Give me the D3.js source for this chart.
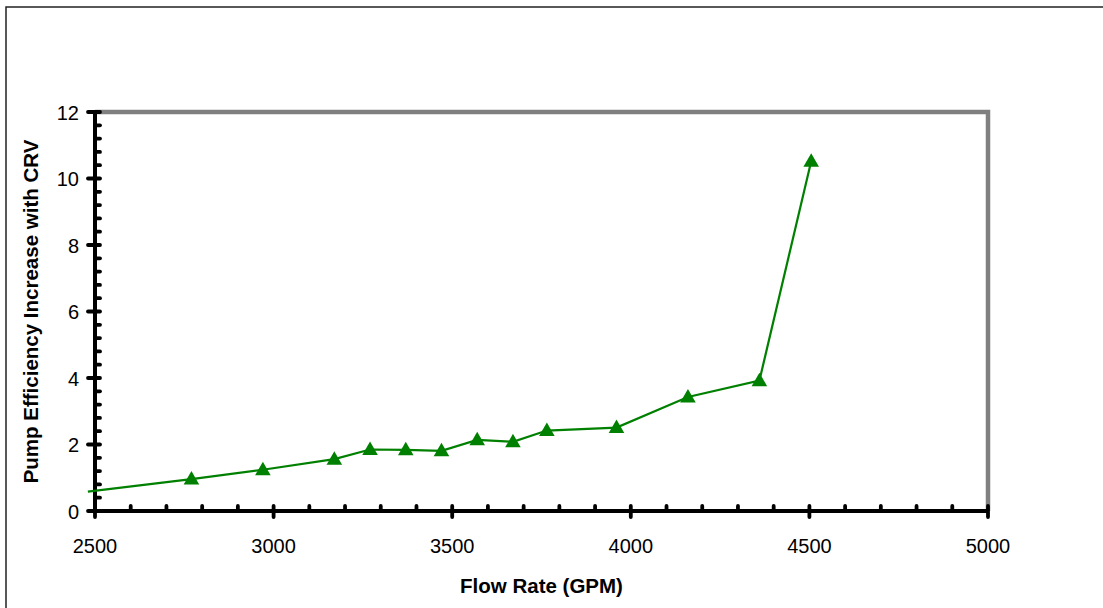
<!DOCTYPE html>
<html><head><meta charset="utf-8">
<script src="https://cdn.jsdelivr.net/npm/d3@7"></script>
<style>body{margin:0;background:#fff}svg{display:block}</style>
</head><body>
<script>
const flowRate = [2480, 2770, 2970, 3170, 3270, 3370, 3470, 3570, 3670, 3765, 3960, 4160, 4360, 4505];
const efficiencyIncrease = [0.58, 0.96, 1.24, 1.56, 1.85, 1.84, 1.81, 2.14, 2.08, 2.42, 2.51, 3.43, 3.92, 10.52];
const xTicks = [2500, 3000, 3500, 4000, 4500, 5000];
const yTicks = [0, 2, 4, 6, 8, 10, 12];
const xTitle = "Flow Rate (GPM)";
const yTitle = "Pump Efficiency Increase with CRV";

const W = 1103, H = 608;
const m = {left: 95, right: 988, top: 112, bottom: 511};
const svg = d3.select("body").append("svg").attr("width", W).attr("height", H);
const font = "Liberation Sans, Arial, sans-serif";

// outer border
svg.append("rect").attr("x", 6).attr("y", 7).attr("width", 1200).attr("height", 700)
  .attr("fill", "none").attr("stroke", "#222").attr("stroke-width", 1.5);

const x = d3.scaleLinear().domain([2500, 5000]).range([m.left, m.right]);
const y = d3.scaleLinear().domain([0, 12]).range([m.bottom, m.top]);

// gray top and right border
svg.append("path")
  .attr("d", `M${m.left},${m.top}H${m.right}V${m.bottom}`)
  .attr("fill", "none").attr("stroke", "#808080").attr("stroke-width", 4.5);

// minor ticks
const xMinor = d3.range(2500, 5001, 100).filter(v => v % 500 !== 0);
const yMinor = d3.range(0, 12.01, 0.4).map(v => +v.toFixed(1)).filter(v => Math.abs(v % 2) > 1e-6 && Math.abs(v % 2 - 2) > 1e-6);

const tickG = svg.append("g").attr("stroke", "#000").attr("stroke-width", 3.8).attr("stroke-linecap", "round");
xMinor.forEach(v => tickG.append("line").attr("x1", x(v)).attr("x2", x(v)).attr("y1", m.bottom).attr("y2", m.bottom - 5));
yMinor.forEach(v => tickG.append("line").attr("x1", m.left).attr("x2", m.left + 5).attr("y1", y(v)).attr("y2", y(v)));
xTicks.forEach(v => tickG.append("line").attr("x1", x(v)).attr("x2", x(v)).attr("y1", m.bottom - 5).attr("y2", m.bottom + 6));
yTicks.forEach(v => tickG.append("line").attr("x1", m.left - 7).attr("x2", m.left + 5).attr("y1", y(v)).attr("y2", y(v)));

// axes lines
svg.append("line").attr("x1", m.left).attr("x2", m.right).attr("y1", m.bottom).attr("y2", m.bottom)
  .attr("stroke", "#000").attr("stroke-width", 4);
svg.append("line").attr("x1", m.left).attr("x2", m.left).attr("y1", m.top).attr("y2", m.bottom)
  .attr("stroke", "#000").attr("stroke-width", 4);

// tick labels
svg.append("g").selectAll("text").data(xTicks).join("text")
  .attr("x", d => x(d)).attr("y", 553).attr("text-anchor", "middle")
  .attr("font-family", font).attr("font-size", 20).attr("fill", "#000").text(d => d);
svg.append("g").selectAll("text").data(yTicks).join("text")
  .attr("x", 79).attr("y", d => y(d) + 7.5).attr("text-anchor", "end")
  .attr("font-family", font).attr("font-size", 20).attr("fill", "#000").text(d => d);

// titles
svg.append("text").attr("x", (m.left + m.right) / 2).attr("y", 593).attr("text-anchor", "middle")
  .attr("font-family", font).attr("font-size", 20.5).attr("font-weight", "bold").text(xTitle);
svg.append("text").attr("transform", `translate(37.5,${(m.top + m.bottom) / 2}) rotate(-90)`)
  .attr("text-anchor", "middle")
  .attr("font-family", font).attr("font-size", 20.5).attr("font-weight", "bold").text(yTitle);

// data line
const pts = flowRate.map((f, i) => [f, efficiencyIncrease[i]]);
svg.append("path").datum(pts)
  .attr("d", d3.line().x(d => x(d[0])).y(d => y(d[1])))
  .attr("fill", "none").attr("stroke", "#008000").attr("stroke-width", 2.2);

// markers
const tri = d3.symbol().type(d3.symbolTriangle).size(105);
svg.append("g").selectAll("path").data(pts.filter(d => d[0] >= 2500)).join("path")
  .attr("d", tri).attr("transform", d => `translate(${x(d[0])},${y(d[1]) + 1})`)
  .attr("fill", "#008000");
</script>
</body></html>
